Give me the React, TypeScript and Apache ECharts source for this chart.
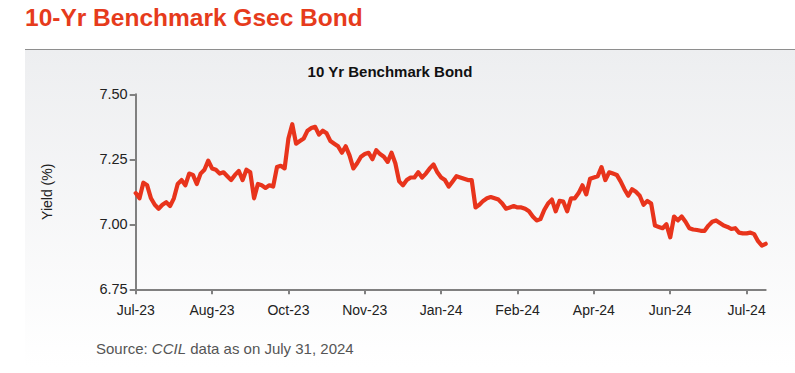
import React, { useEffect, useRef } from "react";
import * as echarts from "echarts";

const TITLE = "10-Yr Benchmark Gsec Bond";
const CHART_TITLE = "10 Yr Benchmark Bond";
const Y_NAME = "Yield (%)";
const tickLabels = ["Jul-23", "Aug-23", "Oct-23", "Nov-23", "Jan-24", "Feb-24", "Apr-24", "Jun-24", "Jul-24"];
const TICK_EVERY = 20;

// Yield (%) readings, sampled along the chart (166 points)
const yields1 = [7.12, 7.10, 7.16, 7.15, 7.10, 7.075, 7.06, 7.075, 7.085, 7.07, 7.10, 7.155, 7.17, 7.15, 7.195, 7.19, 7.155, 7.195, 7.21, 7.245];
const yields2 = [7.215, 7.21, 7.195, 7.20, 7.185, 7.17, 7.19, 7.205, 7.17, 7.21, 7.20, 7.10, 7.155, 7.15, 7.14, 7.15, 7.145, 7.22, 7.225, 7.215];
const yields3 = [7.33, 7.385, 7.31, 7.32, 7.33, 7.36, 7.37, 7.375, 7.345, 7.36, 7.35, 7.32, 7.31, 7.30, 7.275, 7.30, 7.265, 7.215, 7.235, 7.26];
const yields4 = [7.27, 7.275, 7.25, 7.285, 7.27, 7.26, 7.24, 7.275, 7.235, 7.165, 7.15, 7.17, 7.18, 7.18, 7.20, 7.18, 7.195, 7.215, 7.23, 7.20];
const yields5 = [7.18, 7.17, 7.145, 7.165, 7.185, 7.18, 7.175, 7.17, 7.17, 7.065, 7.075, 7.09, 7.10, 7.105, 7.10, 7.095, 7.08, 7.06, 7.065, 7.07];
const yields6 = [7.065, 7.065, 7.06, 7.05, 7.03, 7.015, 7.02, 7.055, 7.08, 7.095, 7.05, 7.09, 7.087, 7.05, 7.10, 7.10, 7.12, 7.15, 7.115, 7.175];
const yields7 = [7.18, 7.185, 7.22, 7.17, 7.20, 7.195, 7.19, 7.165, 7.135, 7.11, 7.135, 7.125, 7.11, 7.075, 7.09, 7.08, 6.995, 6.99, 6.985, 7.00];
const yields8 = [6.95, 7.03, 7.015, 7.03, 7.01, 6.985, 6.98, 6.978, 6.975, 6.975, 6.995, 7.01, 7.015, 7.005, 6.995, 6.99, 6.982, 6.985, 6.968, 6.965];
const yields9 = [6.965, 6.968, 6.962, 6.935, 6.918, 6.925];

const yieldValues = [...yields1, ...yields2, ...yields3, ...yields4, ...yields5, ...yields6, ...yields7, ...yields8, ...yields9];
const categories = yieldValues.map((_, i) =>
  i % TICK_EVERY === 0 && tickLabels[i / TICK_EVERY] ? tickLabels[i / TICK_EVERY] : "p" + i
);

const yTicks = { min: 6.75, max: 7.5, interval: 0.25 };

export default function App() {
  const ref = useRef<HTMLDivElement>(null);
  useEffect(() => {
    if (!ref.current) return;
    const chart = echarts.init(ref.current, null, { renderer: "svg" });
    const font = "'Liberation Sans', Arial, sans-serif";
    chart.setOption({
      animation: false,
      backgroundColor: "#ffffff",
      graphic: [
        {
          type: "rect",
          z: -10,
          shape: { x: 25, y: 49, width: 770, height: 318 },
          style: {
            fill: new echarts.graphic.LinearGradient(0, 0, 0, 1, [
              { offset: 0, color: "#EDEEF0" },
              { offset: 1, color: "#FFFFFF" },
            ]),
          },
        },
        {
          type: "line",
          shape: { x1: 25, y1: 49.5, x2: 795, y2: 49.5 },
          style: { stroke: "#8E8E8E", lineWidth: 1 },
        },
        {
          type: "text",
          x: 25,
          y: 5,
          style: { text: TITLE, fill: "#E63B1C", font: `bold 24.5px ${font}` },
        },
        {
          type: "text",
          x: 390,
          y: 64,
          style: { text: CHART_TITLE, fill: "#111111", font: `bold 15px ${font}`, textAlign: "center" },
        },
        {
          type: "text",
          x: 96,
          y: 341,
          style: {
            text: "{a|Source: }{b|CCIL}{a| data as on July 31, 2024}",
            rich: {
              a: { fill: "#555555", fontSize: 15, fontFamily: font },
              b: { fill: "#555555", fontSize: 15, fontFamily: font, fontStyle: "italic" },
            },
          },
        },
      ],
      grid: { left: 135.7, right: 29.3, top: 94.3, bottom: 83.7, containLabel: false },
      xAxis: {
        type: "category",
        data: categories,
        boundaryGap: false,
        axisLine: { lineStyle: { color: "#808080", width: 2 } },
        axisTick: { show: true, interval: TICK_EVERY - 1, length: 5, lineStyle: { color: "#808080", width: 2 } },
        axisLabel: {
          interval: TICK_EVERY - 1,
          color: "#222222",
          fontSize: 14,
          fontFamily: font,
          margin: 14,
        },
        splitLine: { show: false },
      },
      yAxis: {
        type: "value",
        min: yTicks.min,
        max: yTicks.max,
        interval: yTicks.interval,
        name: Y_NAME,
        nameLocation: "middle",
        nameGap: 82,
        nameRotate: 90,
        nameTextStyle: { color: "#222222", fontSize: 14, fontFamily: font },
        axisLine: { show: true, lineStyle: { color: "#808080", width: 2 } },
        axisTick: { show: true, length: 6, lineStyle: { color: "#808080", width: 2 } },
        axisLabel: {
          color: "#222222",
          fontSize: 14.5,
          fontFamily: font,
          margin: 8,
          formatter: (v: number) => v.toFixed(2),
        },
        splitLine: { show: false },
      },
      series: [
        {
          type: "line",
          data: yieldValues,
          symbol: "none",
          lineStyle: { color: "#E8341C", width: 4.2, join: "round", cap: "round" },
        },
      ],
    });
    return () => chart.dispose();
  }, []);
  return <div ref={ref} style={{ position: "fixed", left: 0, top: 0, width: 795, height: 373 }} />;
}
